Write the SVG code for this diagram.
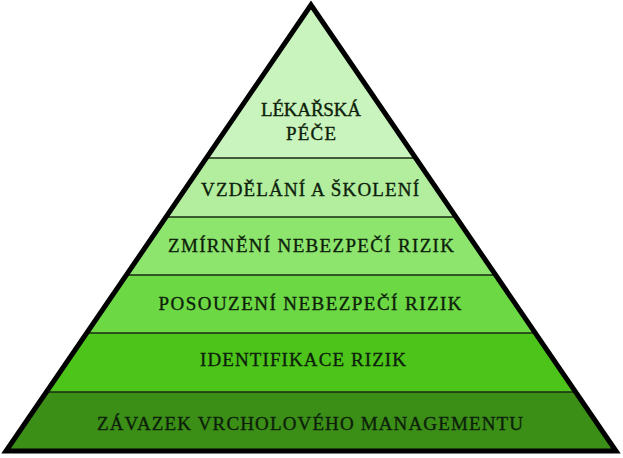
<svg xmlns="http://www.w3.org/2000/svg" width="623" height="458" viewBox="0 0 623 458">
<style>
.lbl{font-family:"Liberation Serif","DejaVu Serif",serif;font-size:19px;fill:#0d1f0b;stroke:#0d1f0b;stroke-width:0.35;text-anchor:middle;letter-spacing:2px}
.div{stroke:#1a2a14;stroke-width:1.5}
</style>
<defs>
<clipPath id="tri"><polygon points="311,5 6,451 616,451"/></clipPath>
</defs>
<rect width="623" height="458" fill="#fff"/>
<g clip-path="url(#tri)">
<g id="layer1"><rect x="0" y="0" width="623" height="158" fill="#caf4bd"/></g>
<g id="layer2"><rect x="0" y="158" width="623" height="59" fill="#b3ed9e"/></g>
<g id="layer3"><rect x="0" y="217" width="623" height="58" fill="#8ee56e"/></g>
<g id="layer4"><rect x="0" y="275" width="623" height="58" fill="#6cd844"/></g>
<g id="layer5"><rect x="0" y="333" width="623" height="59" fill="#4cc41a"/></g>
<g id="layer6"><rect x="0" y="392" width="623" height="66" fill="#3b8f16"/></g>
</g>
<g id="connectors">
<line class="div" x1="206" y1="158" x2="416" y2="158"/>
<line class="div" x1="166" y1="217" x2="456" y2="217"/>
<line class="div" x1="127" y1="275" x2="495" y2="275"/>
<line class="div" x1="87" y1="333" x2="535" y2="333"/>
<line class="div" x1="47" y1="392" x2="575" y2="392"/>
</g>
<polygon points="311,5 6,451 616,451" fill="none" stroke="#000" stroke-width="5" stroke-linejoin="miter"/>
<text class="lbl" x="312" y="116" textLength="102" lengthAdjust="spacing">LÉKAŘSKÁ</text>
<text class="lbl" x="312" y="140" textLength="52" lengthAdjust="spacing">PÉČE</text>
<text class="lbl" x="311" y="196" textLength="220" lengthAdjust="spacing">VZDĚLÁNÍ A ŠKOLENÍ</text>
<text class="lbl" x="312" y="252" textLength="288" lengthAdjust="spacing">ZMÍRNĚNÍ NEBEZPEČÍ RIZIK</text>
<text class="lbl" x="311" y="310" textLength="305" lengthAdjust="spacing">POSOUZENÍ NEBEZPEČÍ RIZIK</text>
<text class="lbl" x="304" y="366" textLength="208" lengthAdjust="spacing">IDENTIFIKACE RIZIK</text>
<text class="lbl" x="311" y="430" textLength="428" lengthAdjust="spacing">ZÁVAZEK VRCHOLOVÉHO MANAGEMENTU</text>
</svg>
